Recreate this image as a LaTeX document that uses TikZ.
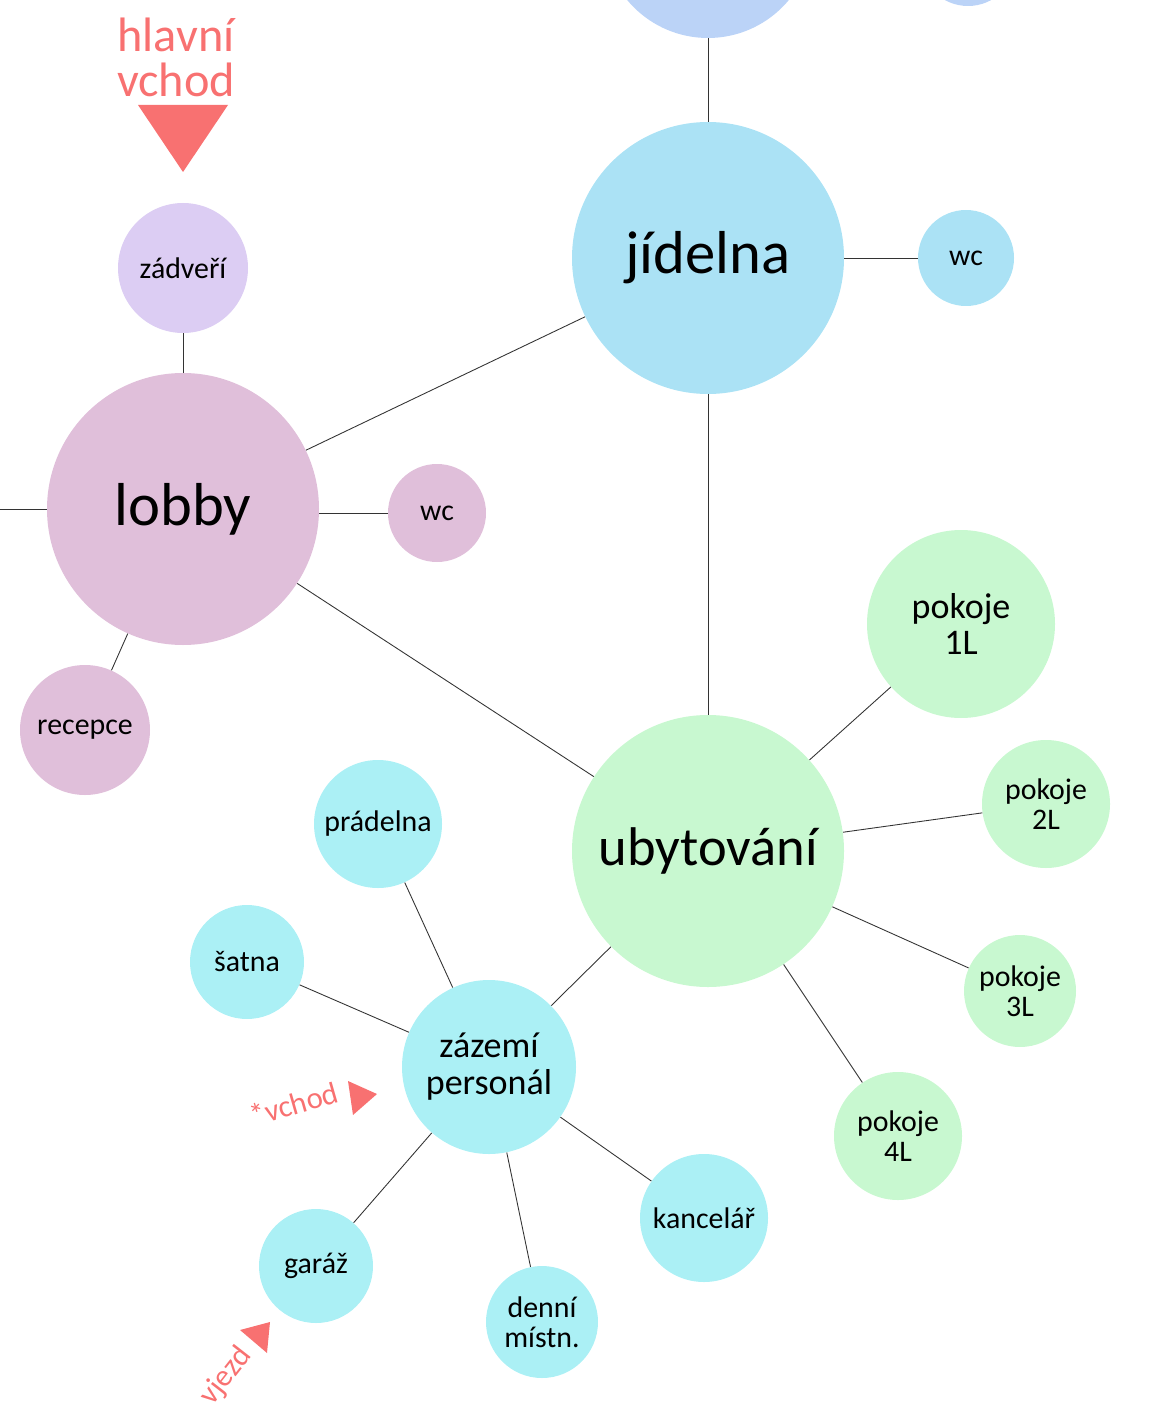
\documentclass[tikz,border=0pt]{standalone}
\usepackage{fontspec}
\setmainfont{Carlito}
\definecolor{ctop}{HTML}{BBD3F7}
\definecolor{cblue}{HTML}{ABE2F5}
\definecolor{clav}{HTML}{DCCDF3}
\definecolor{cpink}{HTML}{E0BFDA}
\definecolor{cgreen}{HTML}{C8F8D0}
\definecolor{ccyan}{HTML}{ABF0F5}
\definecolor{cred}{HTML}{F87171}
\definecolor{cline}{HTML}{333333}
\begin{document}
\begin{tikzpicture}[x=0.02cm,y=-0.02cm,
  bub/.style={circle, inner sep=0pt, minimum size={2*#1*0.02cm}, align=center, text=black},
  huge/.style={font=\fontsize{34.5}{36}\selectfont},
  big/.style={font=\fontsize{31}{32}\selectfont},
  mid/.style={font=\fontsize{20.5}{21}\selectfont},
  sml/.style={font=\fontsize{17}{17.3}\selectfont},
  link/.style={draw=cline, line width=0.5pt},
  redtxt/.style={text=cred, inner sep=0pt}]
\useasboundingbox (0,0) rectangle (1160,1405);
% nodes
\node[bub=105, fill=ctop] (top) at (708,-67) {};
\node[bub=48, fill=ctop] (topr) at (968,-42) {};
\node[bub=136, fill=cblue, huge] (jid) at (708,258) {jídelna};
\node[bub=48, fill=cblue, sml] (wc1) at (966,258) {wc};
\node[bub=65, fill=clav, sml] (zad) at (183,268) {zádveří};
\node[bub=136, fill=cpink, huge] (lob) at (183,509) {lobby};
\node[bub=49, fill=cpink, sml] (wc2) at (437,513) {wc};
\node[bub=65, fill=cpink, sml] (rec) at (85,730) {recepce};
\coordinate (left) at (0,509);
\node[bub=136, fill=cgreen, big] (uby) at (708,851) {ubytování};
\node[bub=94, fill=cgreen, mid] (p1) at (961,624) {pokoje\\1L};
\node[bub=64, fill=cgreen, sml] (p2) at (1046,804) {pokoje\\2L};
\node[bub=56, fill=cgreen, sml] (p3) at (1020,991) {pokoje\\3L};
\node[bub=64, fill=cgreen, sml] (p4) at (898,1136) {pokoje\\4L};
\node[bub=64, fill=ccyan, sml] (pra) at (378,824) {prádelna};
\node[bub=57, fill=ccyan, sml] (sat) at (247,962) {šatna};
\node[bub=87, fill=ccyan, mid] (zaz) at (489,1067) {zázemí\\personál};
\node[bub=64, fill=ccyan, sml] (kan) at (704,1218) {kancelář};
\node[bub=56, fill=ccyan, sml] (den) at (542,1322) {denní\\místn.};
\node[bub=57, fill=ccyan, sml] (gar) at (316,1266) {garáž};
% links
\draw[link] (top) -- (jid);
\draw[link] (jid) -- (wc1);
\draw[link] (jid) -- (lob);
\draw[link] (jid) -- (uby);
\draw[link] (lob) -- (zad);
\draw[link] (wc2.west) -- (wc2.west -| lob.east);
\draw[link] (lob) -- (rec);
\draw[link] (lob) -- (left);
\draw[link] (lob) -- (uby);
\draw[link] (uby) -- (p1);
\draw[link] (uby) -- (p2);
\draw[link] (uby) -- (p3);
\draw[link] (uby) -- (p4);
\draw[link] (uby) -- (zaz);
\draw[link] (zaz) -- (pra);
\draw[link] (zaz) -- (sat);
\draw[link] (zaz) -- (gar);
\draw[link] (zaz) -- (den);
\draw[link] (zaz) -- (kan);
% entrances
\node[redtxt, align=center, font=\fontsize{27.5}{25.5}\selectfont] (hv) at (176,57) {hlavní\\vchod};
\fill[cred] (138,105) -- (228,105) -- (183,172) -- cycle;
\node[redtxt, rotate=16, font=\fontsize{17.5}{18}\selectfont] (vch) at (294,1104) {*vchod};
\fill[cred] (348,1081) -- (377,1094) -- (353,1115) -- cycle;
\node[redtxt, rotate=52, font=\fontsize{17.5}{18}\selectfont] (vje) at (226,1376) {vjezd};
\fill[cred] (240,1330) -- (270,1322) -- (267,1353) -- cycle;
\end{tikzpicture}
\end{document}
